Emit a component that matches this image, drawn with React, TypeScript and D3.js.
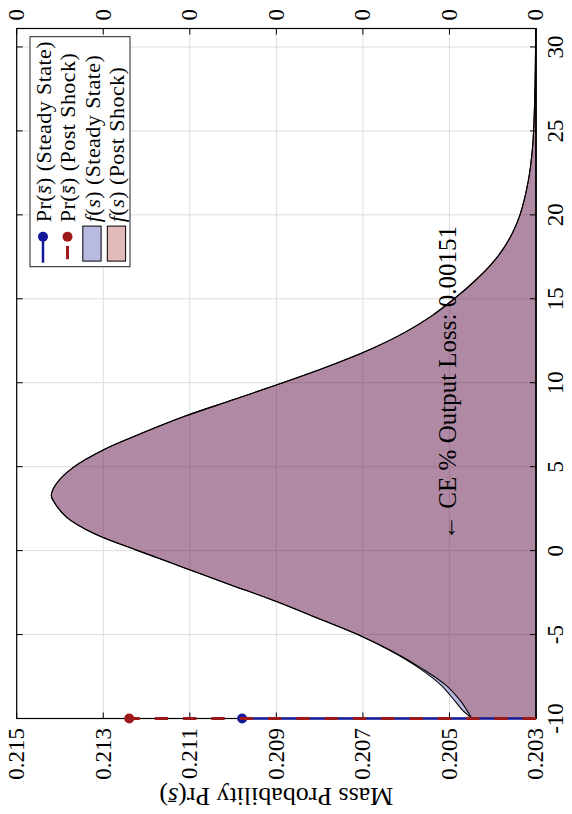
import React from "react";
import * as d3 from "d3";

// ---- data ----
const sPoints = [-10, -9.5, -9, -8, -7, -6, -5, -4, -3, -2, -1, 0, 1, 2, 3, 3.3, 4, 5, 6, 7, 8, 9, 10, 11, 12, 13, 14, 15, 16, 17, 18, 19, 20, 22, 24, 26, 28, 30, 31.1];
const fPostShock = [0.20448, 0.2046, 0.20473, 0.20509, 0.20565, 0.20632, 0.20712, 0.20807, 0.20903, 0.2101, 0.21115, 0.2122, 0.2132, 0.21385, 0.21416, 0.2142, 0.21408, 0.21367, 0.213, 0.2121, 0.21112, 0.20998, 0.20885, 0.20778, 0.20682, 0.20603, 0.2054, 0.20489, 0.20444, 0.20405, 0.20375, 0.20353, 0.20337, 0.20318, 0.20308, 0.20304, 0.20302, 0.20301, 0.203005];
const fSteadyState = [0.20448, 0.2047, 0.20486, 0.2052, 0.2057, 0.20634, 0.20712, 0.20807, 0.20903, 0.2101, 0.21115, 0.2122, 0.2132, 0.21385, 0.21416, 0.2142, 0.21408, 0.21367, 0.213, 0.2121, 0.21112, 0.20998, 0.20885, 0.20778, 0.20682, 0.20603, 0.2054, 0.20489, 0.20444, 0.20405, 0.20375, 0.20353, 0.20337, 0.20318, 0.20308, 0.20304, 0.20302, 0.20301, 0.203005];
const massPointS = -10;
const prSteadyState = 0.20979;
const prPostShock = 0.2124;
const sTicks = [-10, -5, 0, 5, 10, 15, 20, 25, 30];
const prTicks = [0.203, 0.205, 0.207, 0.209, 0.211, 0.213, 0.215];
const rightTickLabels = ["0", "0", "0", "0", "0", "0", "0"];
const sDomain = [-10, 31.1];
const prDomain = [0.203, 0.215];
const annotationText = "\u2190 CE % Output Loss: 0.00151";
const annotationPos = { s: 0.64, pr: 0.20484 };
const legendStates = ["(Steady State)", "(Post Shock)", "(Steady State)", "(Post Shock)"];

// ---- styles ----
const BLUE = "#14199a";
const RED = "#9e1919";
const FONT = "Liberation Serif, Times New Roman, serif";

export default function App() {
  const X0 = 16.7;
  const Y0 = 718.5;
  const W = 690;
  const H = 519.3;

  const xS = d3.scaleLinear().domain(sDomain).range([0, W]);
  const yS = d3.scaleLinear().domain(prDomain).range([H, 0]);

  const mk = (vals: number[]) => sPoints.map((s, i) => ({ s, v: vals[i] }));
  const area = d3
    .area<{ s: number; v: number }>()
    .x((d) => xS(d.s))
    .y0(yS(prDomain[0]))
    .y1((d) => yS(d.v))
    .curve(d3.curveCatmullRom);

  const steadyPath = area(mk(fSteadyState)) || "";
  const postPath = area(mk(fPostShock)) || "";

  const tickLen = 6;
  const legX = W - 8.2 - 230;
  const legY = 13.3;
  const rowY = (i: number) => legY + 13 + i * 24.5;
  const iconX0 = legX + 4;
  const iconX1 = legX + 40;
  const textX = legX + 44.5;

  return (
    <svg
      width={572}
      height={814}
      style={{ position: "absolute", left: 0, top: 0, background: "#fff" }}
      fontFamily={FONT}
    >
      <rect x={0} y={0} width={572} height={814} fill="#fff" />
      <g transform={`translate(${X0},${Y0}) rotate(-90)`}>
        {/* grid */}
        {sTicks.map((t) => (
          <line key={"gs" + t} x1={xS(t)} x2={xS(t)} y1={0} y2={H} stroke="#dcdcdc" strokeWidth={1} />
        ))}
        {prTicks.map((t) => (
          <line key={"gp" + t} x1={0} x2={W} y1={yS(t)} y2={yS(t)} stroke="#dcdcdc" strokeWidth={1} />
        ))}

        {/* densities */}
        <path d={steadyPath} fill={BLUE} fillOpacity={0.3} stroke="#000" strokeWidth={1.1} />
        <path d={postPath} fill={RED} fillOpacity={0.3} stroke="#000" strokeWidth={1.1} />

        {/* annotation */}
        <text x={xS(annotationPos.s)} y={yS(annotationPos.pr)} fontSize={25} fill="#000">
          {annotationText}
        </text>

        {/* frame */}
        <rect x={0} y={0} width={W} height={H} fill="none" stroke="#000" strokeWidth={1.2} />
        {sTicks.map((t) => (
          <g key={"ts" + t}>
            <line x1={xS(t)} x2={xS(t)} y1={H} y2={H - tickLen} stroke="#000" />
            <line x1={xS(t)} x2={xS(t)} y1={0} y2={tickLen} stroke="#000" />
          </g>
        ))}
        {prTicks.map((t) => (
          <g key={"tp" + t}>
            <line x1={0} x2={tickLen} y1={yS(t)} y2={yS(t)} stroke="#000" />
            <line x1={W} x2={W - tickLen} y1={yS(t)} y2={yS(t)} stroke="#000" />
          </g>
        ))}

        {/* stems */}
        <line x1={xS(massPointS)} x2={xS(massPointS)} y1={yS(prDomain[0])} y2={yS(prSteadyState)} stroke={BLUE} strokeWidth={2.5} />
        <circle cx={xS(massPointS)} cy={yS(prSteadyState)} r={5} fill={BLUE} />
        <line
          x1={xS(massPointS)}
          x2={xS(massPointS)}
          y1={yS(prDomain[0])}
          y2={yS(prPostShock)}
          stroke={RED}
          strokeWidth={3}
          strokeDasharray="13.3 15"
        />
        <circle cx={xS(massPointS)} cy={yS(prPostShock)} r={5} fill={RED} />

        {/* tick labels */}
        {sTicks.map((t) => (
          <text key={"ls" + t} x={xS(t)} y={H + 27} fontSize={23} textAnchor="middle" fill="#000">
            {String(t)}
          </text>
        ))}
        {prTicks.map((t) => (
          <text key={"lp" + t} x={-9.5} y={yS(t)} fontSize={23} textAnchor="end" dominantBaseline="central" fill="#000">
            {t.toFixed(3)}
          </text>
        ))}
        {prTicks.map((t, i) => (
          <text key={"lr" + t} x={W + 8} y={yS(t)} fontSize={23} textAnchor="start" dominantBaseline="central" fill="#000">
            {rightTickLabels[i]}
          </text>
        ))}

        {/* axis title */}
        <text
          transform={`translate(${-78.5},${H / 2}) rotate(-90)`}
          fontSize={26}
          textAnchor="middle"
          dominantBaseline="central"
          fill="#000"
        >
          <tspan>Mass Probability Pr(</tspan>
          <tspan fontStyle="italic">{"s\u0304"}</tspan>
          <tspan>)</tspan>
        </text>

        {/* legend */}
        <rect x={legX} y={legY} width={230} height={100} fill="#fff" stroke="#222" strokeWidth={1} />
        <line x1={iconX0} x2={iconX1 - 10} y1={rowY(0)} y2={rowY(0)} stroke={BLUE} strokeWidth={2.5} />
        <circle cx={iconX1 - 10} cy={rowY(0)} r={5} fill={BLUE} />
        <line
          x1={iconX0}
          x2={iconX1 - 10}
          y1={rowY(1)}
          y2={rowY(1)}
          stroke={RED}
          strokeWidth={3}
          strokeDasharray="13.3 15"
          strokeDashoffset={24.8}
        />
        <circle cx={iconX1 - 10} cy={rowY(1)} r={5} fill={RED} />
        <rect x={iconX0 + 1.6} y={rowY(2) - 9.2} width={35} height={18.3} fill={BLUE} fillOpacity={0.3} stroke="#000" />
        <rect x={iconX0 + 1.6} y={rowY(3) - 9.2} width={35} height={18.3} fill={RED} fillOpacity={0.3} stroke="#000" />
        {legendStates.map((st, i) =>
          i < 2 ? (
            <text key={"lg" + i} x={textX} y={rowY(i)} fontSize={22} letterSpacing={0.45} dominantBaseline="central" fill="#000">
              <tspan>Pr(</tspan>
              <tspan fontStyle="italic">{"s\u0304"}</tspan>
              <tspan>{") " + st}</tspan>
            </text>
          ) : (
            <text key={"lg" + i} x={textX} y={rowY(i)} fontSize={22} letterSpacing={0.45} dominantBaseline="central" fill="#000">
              <tspan fontStyle="italic">f</tspan>
              <tspan>(</tspan>
              <tspan fontStyle="italic">s</tspan>
              <tspan>{") " + st}</tspan>
            </text>
          )
        )}
      </g>
    </svg>
  );
}
